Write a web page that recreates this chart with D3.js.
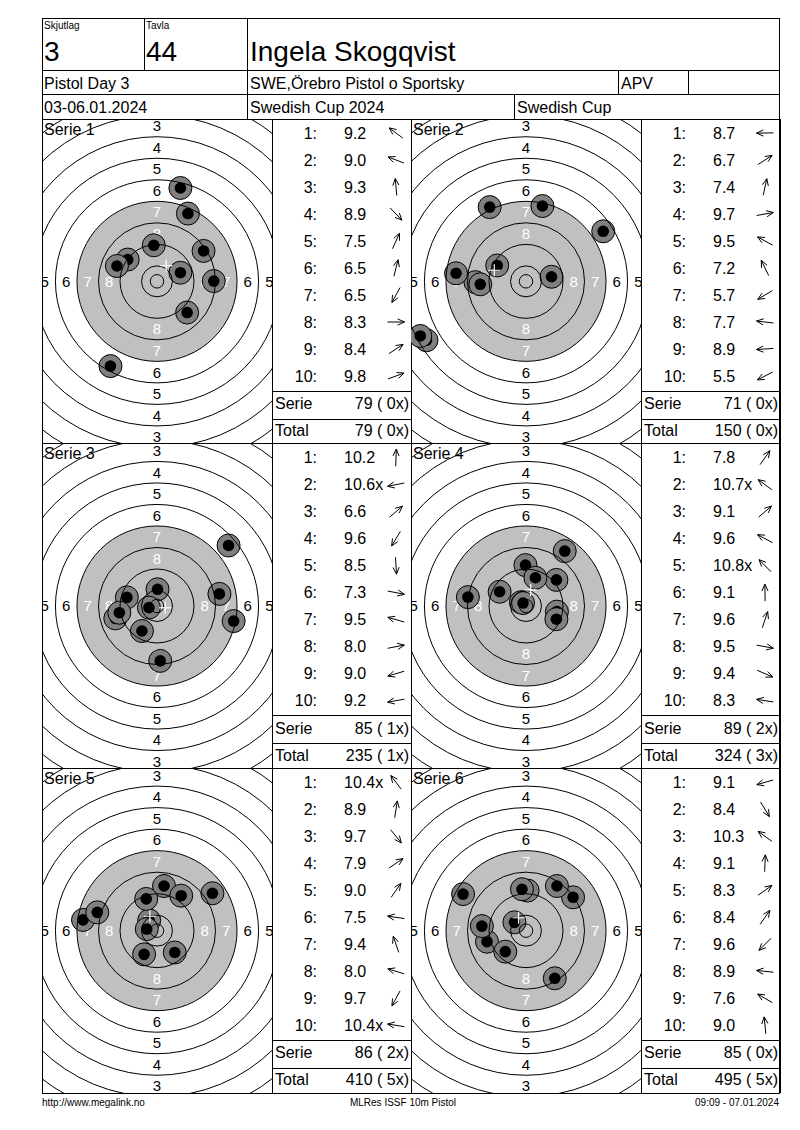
<!DOCTYPE html>
<html>
<head>
<meta charset="utf-8">
<title>Serie card</title>
<script src="https://cdnjs.cloudflare.com/ajax/libs/d3/7.8.5/d3.min.js"></script>
<style>
	body { margin: 0; background: #fff; }
	svg { display: block; font-family: 'Liberation Sans', Arial, sans-serif; }
	.frame, .ring, .arrow { fill: none; stroke: #000; stroke-width: 1; }
	.aim { fill: #c0c0c0; }
	.shot-outer { fill: #808080; stroke: #000; stroke-width: 1; }
	.shot-inner { fill: #000; }
	.cross { stroke: #fff; stroke-width: 1.2; }
</style>
</head>
<body>
<div id="card"></div>
<script>
	// Header texts
	const squadLabel = 'Skjutlag', squadValue = '3';
	const laneLabel = 'Tavla', laneValue = '44';
	const shooterName = 'Ingela Skogqvist';
	const headerRow2 = ['Pistol Day 3', 'SWE,Örebro Pistol o Sportsky', 'APV', ''];
	const headerRow3 = ['03-06.01.2024', 'Swedish Cup 2024', 'Swedish Cup'];
	const footerTexts = ['http://www.megalink.no', 'MLRes ISSF 10m Pistol', '09:09 - 07.01.2024'];

	// Series, scores and shot positions (mm from centre, y up), in shot order.
	const seriesLabels = ['Serie 1', 'Serie 2', 'Serie 3', 'Serie 4', 'Serie 5', 'Serie 6'];
	const shotScores = [
		['9.2', '9.0', '9.3', '8.9', '7.5', '6.5', '6.5', '8.3', '8.4', '9.8'],
		['8.7', '6.7', '7.4', '9.7', '9.5', '7.2', '5.7', '7.7', '8.9', '5.5'],
		['10.2', '10.6x', '6.6', '9.6', '8.5', '7.3', '9.5', '8.0', '9.0', '9.2'],
		['7.8', '10.7x', '9.1', '9.6', '10.8x', '9.1', '9.6', '9.5', '9.4', '8.3'],
		['10.4x', '8.9', '9.7', '7.9', '9.0', '7.5', '9.4', '8.0', '9.7', '10.4x'],
		['9.1', '8.4', '10.3', '9.1', '8.3', '8.4', '9.6', '8.9', '7.6', '9.0']
	];
	const shotX = [
		[-10.9, -14.9, -1.2, 11.2, 11.5, 8.7, -17.3, 21.1, 17.3, 8.7],
		[-18.8, 28.7, 6.1, 9.5, -10.7, -13.5, -37.0, -26.0, -17.0, -39.3],
		[0.2, -3.0, 26.6, -5.6, 1.2, 28.5, -11.2, 23.2, -15.5, -14.0],
		[14.4, -1.9, 11.3, -9.8, -1.1, -0.2, 3.5, 11.5, 11.3, -21.6],
		[-2.9, 2.6, 6.6, 20.6, 9.0, -27.5, -4.0, -22.2, -4.8, -3.8],
		[-14.5, 10.7, -4.3, 0.6, 17.5, 11.5, -7.7, -16.4, -23.4, -1.5]
	];
	const shotY = [
		[8.1, 5.7, 13.4, -11.6, 25.2, 34.7, -31.5, 0.1, 11.3, 3.2],
		[-0.3, 18.6, 28.0, 1.7, 5.9, 27.6, -21.9, 3.0, -1.1, -20.3],
		[6.2, -0.6, 22.5, -9.3, -20.4, -5.6, 3.2, 4.5, -4.6, -2.5],
		[20.4, 1.4, 9.7, 5.3, 1.1, 15.2, 10.5, -2.1, -4.9, 3.3],
		[3.8, 16.6, -8.1, 13.9, 13.0, 4.0, 11.8, 6.8, -8.8, 0.6],
		[-4.1, -17.7, 3.1, 14.9, 12.4, 16.6, -7.8, 1.7, 13.6, 15.4]
	];

	// 10m pistol target: ring radii in mm for rings 1..10.
	const ringRadii = [77.75, 69.75, 61.75, 53.75, 45.75, 37.75, 29.75, 21.75, 13.75, 5.75];
	const innerTen = 2.5;
	const aimRadius = 29.75;
	const labelledRings = [3, 4, 5, 6, 7, 8];

	const W = 800, H = 1130;
	const frameL = 42, frameR = 779, frameT = 18, frameB = 1093;
	const gridTop = 119;
	const panelH = (frameB - gridTop) / 3;
	const targetW = 230, tableW = 139;

	const svg = d3.select('#card').append('svg')
		.attr('width', W)
		.attr('height', H);
	svg.append('rect').attr('width', W).attr('height', H).attr('fill', '#fff');

	const defs = svg.append('defs');

	function line(x1, y1, x2, y2) {
		svg.append('line')
			.attr('class', 'frame')
			.attr('x1', x1).attr('y1', y1).attr('x2', x2).attr('y2', y2)
			.attr('shape-rendering', 'crispEdges');
	}
	function text(x, y, str, size, anchor) {
		return svg.append('text')
			.attr('x', x).attr('y', y)
			.attr('font-size', size)
			.attr('text-anchor', anchor || 'start')
			.text(str);
	}

	// Header
	svg.append('rect').attr('class', 'frame')
		.attr('x', frameL).attr('y', frameT)
		.attr('width', frameR - frameL).attr('height', frameB - frameT)
		.attr('shape-rendering', 'crispEdges');
	line(frameL, 70, frameR, 70);
	line(frameL, 94.5, frameR, 94.5);
	line(frameL, gridTop, frameR, gridTop);
	line(144, frameT, 144, 70);
	line(247, frameT, 247, gridTop);
	line(618, 70, 618, 94.5);
	line(688, 70, 688, 94.5);
	line(514, 94.5, 514, gridTop);

	text(44, 29, squadLabel, 10);
	text(44, 61, squadValue, 28);
	text(146, 29, laneLabel, 10);
	text(146, 61, laneValue, 28);
	text(250, 61, shooterName, 28);

	const row2X = [44, 250, 621, 691];
	headerRow2.forEach((t, i) => text(row2X[i], 89, t, 16));
	const row3X = [44, 250, 517];
	headerRow3.forEach((t, i) => text(row3X[i], 112.5, t, 16));

	// Footer
	text(frameL, 1106, footerTexts[0], 10);
	text(403, 1106, footerTexts[1], 10, 'middle');
	text(frameR, 1106, footerTexts[2], 10, 'end');

	// Running totals
	let runningTotal = 0, runningX = 0;

	seriesLabels.forEach((label, s) => {
		const row = Math.floor(s / 2), col = s % 2;
		const T = gridTop + row * panelH;
		const L = frameL + col * (targetW + tableW);
		const TL = L + targetW;

		const halfWmm = 42.75;
		const halfHmm = halfWmm * panelH / targetW;
		const x = d3.scaleLinear().domain([-halfWmm, halfWmm]).range([L, L + targetW]);
		const y = d3.scaleLinear().domain([halfHmm, -halfHmm]).range([T, T + panelH]);
		const r = d3.scaleLinear().domain([0, halfWmm]).range([0, targetW / 2]);

		defs.append('clipPath').attr('id', 'clip' + s)
			.append('rect').attr('x', L).attr('y', T).attr('width', targetW).attr('height', panelH);

		const g = svg.append('g').attr('clip-path', 'url(#clip' + s + ')');

		g.append('circle').attr('class', 'aim')
			.attr('cx', x(0)).attr('cy', y(0)).attr('r', r(aimRadius));

		// Ring numbers (only those whose centre falls inside the panel)
		const labelData = [];
		labelledRings.forEach(n => {
			const mid = (ringRadii[n - 1] + ringRadii[n]) / 2;
			[[0, mid], [0, -mid], [mid, 0], [-mid, 0]].forEach(p => {
				if (Math.abs(p[0]) <= halfWmm && Math.abs(p[1]) <= halfHmm) {
					labelData.push({n: n, px: p[0], py: p[1]});
				}
			});
		});
		g.selectAll('text.ringlabel').data(labelData).enter().append('text')
			.attr('class', 'ringlabel')
			.attr('x', d => x(d.px))
			.attr('y', d => y(d.py))
			.attr('dy', '0.36em')
			.attr('text-anchor', 'middle')
			.attr('font-size', 15)
			.attr('fill', d => d.n >= 7 ? '#fff' : '#000')
			.text(d => d.n);

		// Shots
		const shots = shotX[s].map((v, i) => ({x: v, y: shotY[s][i], score: shotScores[s][i]}));
		const sg = g.selectAll('g.shot').data(shots).enter().append('g').attr('class', 'shot');
		sg.append('circle').attr('class', 'shot-outer')
			.attr('cx', d => x(d.x)).attr('cy', d => y(d.y)).attr('r', 11.5);
		sg.append('circle').attr('class', 'shot-inner')
			.attr('cx', d => x(d.x)).attr('cy', d => y(d.y)).attr('r', 5.8);

		// Rings drawn over the shots
		g.selectAll('circle.ring').data(ringRadii.concat([innerTen])).enter().append('circle')
			.attr('class', 'ring')
			.attr('cx', x(0)).attr('cy', y(0))
			.attr('r', d => r(d));

		// Mean point of impact
		const mx = d3.mean(shots, d => d.x), my = d3.mean(shots, d => d.y);
		g.append('line').attr('class', 'cross')
			.attr('x1', x(mx) - 6).attr('x2', x(mx) + 6).attr('y1', y(my)).attr('y2', y(my));
		g.append('line').attr('class', 'cross')
			.attr('x1', x(mx)).attr('x2', x(mx)).attr('y1', y(my) - 6).attr('y2', y(my) + 6);

		g.append('text')
			.attr('x', L + 2).attr('y', T + 15.5)
			.attr('font-size', 16)
			.text(label);

		// Panel frame
		line(TL, T, TL, T + panelH);
		line(TL + tableW, T, TL + tableW, T + panelH);
		line(L, T + panelH, L + targetW + tableW, T + panelH);

		// Score table
		const rowY = i => T + 14 + 27 * i;
		const tg = svg.append('g');
		tg.selectAll('text.idx').data(shots).enter().append('text')
			.attr('class', 'idx')
			.attr('x', TL + 45).attr('y', (d, i) => rowY(i) + 5.6)
			.attr('text-anchor', 'end').attr('font-size', 16)
			.text((d, i) => (i + 1) + ':');
		tg.selectAll('text.score').data(shots).enter().append('text')
			.attr('class', 'score')
			.attr('x', TL + 72).attr('y', (d, i) => rowY(i) + 5.6)
			.attr('font-size', 16)
			.text(d => d.score);

		// Direction arrows
		tg.selectAll('path.arrow').data(shots).enter().append('path')
			.attr('class', 'arrow')
			.attr('d', (d, i) => {
				const a = Math.atan2(d.y, d.x);
				const cx = TL + 124, cy = rowY(i);
				const ux = Math.cos(a), uy = -Math.sin(a);
				const half = 8.5, barb = 7.5, spread = 0.42;
				const tx = cx + ux * half, ty = cy + uy * half;
				const b1 = [tx - barb * Math.cos(a - spread), ty + barb * Math.sin(a - spread)];
				const b2 = [tx - barb * Math.cos(a + spread), ty + barb * Math.sin(a + spread)];
				return 'M' + (cx - ux * half) + ',' + (cy - uy * half) + 'L' + tx + ',' + ty +
					'M' + b1[0] + ',' + b1[1] + 'L' + tx + ',' + ty + 'L' + b2[0] + ',' + b2[1];
			});

		const serieSum = d3.sum(shots, d => Math.floor(parseFloat(d.score)));
		const serieX = shots.filter(d => d.score.endsWith('x')).length;
		runningTotal += serieSum;
		runningX += serieX;

		line(TL, T + 272, TL + tableW, T + 272);
		line(TL, T + 300, TL + tableW, T + 300);
		text(TL + 3, T + 290, 'Serie', 16);
		text(TL + tableW - 2, T + 290, serieSum + ' ( ' + serieX + 'x)', 16, 'end');
		text(TL + 3, T + 317, 'Total', 16);
		text(TL + tableW - 2, T + 317, runningTotal + ' ( ' + runningX + 'x)', 16, 'end');
	});
</script>
</body>
</html>
